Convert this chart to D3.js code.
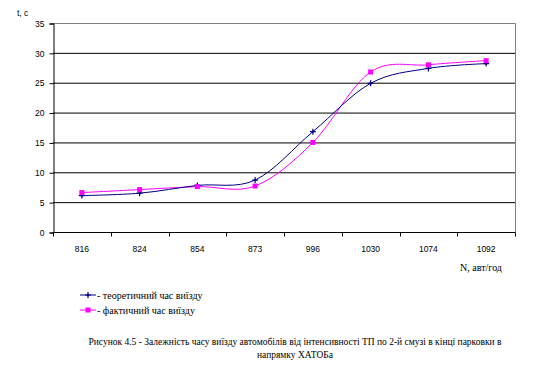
<!DOCTYPE html>
<html>
<head>
<meta charset="utf-8">
<script src="https://cdn.jsdelivr.net/npm/d3@7"></script>
<style>
  body { margin: 0; background: #fff; }
  text { fill: #000; }
</style>
</head>
<body>
<script>
// data
let categories = ["816", "824", "854", "873", "996", "1030", "1074", "1092"];
let theoretical = [6.1, 6.5, 7.8, 8.7, 16.8, 24.9, 27.4, 28.2];
let actual = [6.6, 7.1, 7.6, 7.7, 15.0, 26.8, 28.0, 28.7];
let yTicks = [0, 5, 10, 15, 20, 25, 30, 35];

let W = 559, H = 375;
let plot = {left: 53, right: 515, top: 23, bottom: 232};

let svg = d3.select("body").append("svg")
    .attr("width", W)
    .attr("height", H);

let x = d3.scaleBand()
    .domain(categories)
    .range([plot.left, plot.right]);

let y = d3.scaleLinear()
    .domain([0, 35])
    .range([plot.bottom, plot.top]);

// gridlines
svg.append("g")
    .selectAll("line")
    .data(yTicks.filter(d => d > 0 && d < 35))
    .enter().append("line")
        .attr("x1", plot.left).attr("x2", plot.right)
        .attr("y1", d => y(d) + 0.5).attr("y2", d => y(d) + 0.5)
        .attr("stroke", "#000")
        .attr("stroke-width", 1);

// top + right border (grey)
svg.append("path")
    .attr("d", `M${plot.left},${y(35) + 0.5}H${plot.right + 0.5}V${plot.bottom}`)
    .attr("fill", "none")
    .attr("stroke", "#808080");

// y axis
let yAxis = d3.axisLeft(y).tickValues(yTicks).tickSize(4).tickPadding(5);
svg.append("g")
    .attr("transform", `translate(${plot.left + 0.5},0.5)`)
    .call(yAxis)
    .call(g => g.select(".domain").attr("stroke", "#000"))
    .call(g => g.selectAll("text").attr("font-family", "Liberation Sans, Arial").attr("font-size", 8.5));

// x axis: ticks between categories
let xAxisG = svg.append("g")
    .attr("transform", `translate(0,${plot.bottom + 0.5})`);
xAxisG.append("line")
    .attr("x1", plot.left).attr("x2", plot.right + 0.5)
    .attr("stroke", "#000");
let bounds = categories.map(c => x(c)).concat([plot.right]);
xAxisG.selectAll(".tk")
    .data(bounds)
    .enter().append("line")
        .attr("x1", d => Math.round(d) + 0.5).attr("x2", d => Math.round(d) + 0.5)
        .attr("y1", 0).attr("y2", 4)
        .attr("stroke", "#000");
xAxisG.selectAll(".lbl")
    .data(categories)
    .enter().append("text")
        .attr("x", d => x(d) + x.bandwidth() / 2)
        .attr("y", 19)
        .attr("text-anchor", "middle")
        .attr("font-family", "Liberation Sans, Arial")
        .attr("font-size", 8.5)
        .text(d => d);

// axis titles
svg.append("text")
    .attr("x", 17).attr("y", 16)
    .attr("font-family", "Liberation Sans, Arial")
    .attr("font-size", 8.5)
    .text("t, c");
svg.append("text")
    .attr("x", 460).attr("y", 271)
    .attr("font-family", "Liberation Serif, Times New Roman")
    .attr("font-size", 10)
    .text("N, авт/год");

let cx = d => x(d) + x.bandwidth() / 2;
let line = d3.line()
    .x((d, i) => cx(categories[i]))
    .y(d => y(d))
    .curve(d3.curveCatmullRom.alpha(0));

let series = [
    {name: "- теоретичний час виїзду", values: theoretical, color: "#000080", marker: "plus"},
    {name: "- фактичний час виїзду", values: actual, color: "#ff00ff", marker: "square"}
];

series.slice().reverse().forEach(s => {
    svg.append("path")
        .datum(s.values)
        .attr("d", line)
        .attr("fill", "none")
        .attr("stroke", s.color)
        .attr("stroke-width", 1);
});

function drawMarker(g, s, px, py) {
    if (s.marker === "square") {
        g.append("rect")
            .attr("x", px - 2.5).attr("y", py - 2.5)
            .attr("width", 5).attr("height", 5)
            .attr("fill", s.color);
    } else {
        g.append("path")
            .attr("d", `M${px - 3},${py}H${px + 3}M${px},${py - 3}V${py + 3}`)
            .attr("stroke", s.color)
            .attr("stroke-width", 1.2);
        g.append("rect")
            .attr("x", px - 1).attr("y", py - 1)
            .attr("width", 2).attr("height", 2)
            .attr("fill", s.color);
    }
}

series.forEach(s => {
    let g = svg.append("g");
    s.values.forEach((v, i) => drawMarker(g, s, cx(categories[i]), y(v)));
});

// legend
series.forEach((s, i) => {
    let ly = 295 + i * 15;
    svg.append("line")
        .attr("x1", 80).attr("x2", 96)
        .attr("y1", ly).attr("y2", ly)
        .attr("stroke", s.color)
        .attr("stroke-width", 1);
    drawMarker(svg, s, 88, ly);
    svg.append("text")
        .attr("x", 97).attr("y", ly + 3.5)
        .attr("font-family", "Liberation Serif, Times New Roman")
        .attr("font-size", 10)
        .text(s.name);
});

// caption
let caption = [
    "Рисунок 4.5 - Залежність часу виїзду автомобілів від інтенсивності ТП по 2-й смузі в кінці парковки в",
    "напрямку ХАТОБа"
];
caption.forEach((t, i) => {
    svg.append("text")
        .attr("x", 295).attr("y", 345 + i * 13)
        .attr("text-anchor", "middle")
        .attr("font-family", "Liberation Serif, Times New Roman")
        .attr("font-size", 9.5)
        .text(t);
});
</script>
</body>
</html>
